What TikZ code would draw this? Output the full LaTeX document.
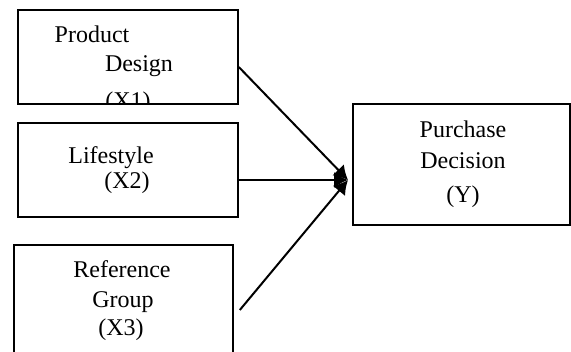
\documentclass[tikz,border=0pt]{standalone}
\usepackage{fontspec}
\setmainfont{Liberation Serif}
\usetikzlibrary{arrows.meta}

\begin{document}
\begin{tikzpicture}[x=0.5pt,y=-0.5pt,>={Latex[length=7pt,width=8pt]},
  box/.style={draw,line width=0.8pt,inner sep=0pt},
  lbl/.style={anchor=base,inner sep=0pt,font=\fontsize{12}{14}\selectfont}]
\useasboundingbox (0,0) rectangle (571,352);
\node[box,minimum width=110pt,minimum height=47pt] (pd) at (128,57) {};
\node[box,minimum width=110pt,minimum height=47pt] (ls) at (128,170) {};
\node[box,minimum width=109.5pt,minimum height=65pt] (rg) at (123.5,310) {};
\node[box,minimum width=108.5pt,minimum height=60.5pt] (pdy) at (461.5,164.5) {};
\begin{scope}
\clip (pd.south west) rectangle (pd.north east);
\node[lbl] at (92,43) {Product}; \node[lbl] at (139,72) {Design};
\node[lbl] at (128,109) {(X1)};
\end{scope}
\node[lbl] at (111,163) {Lifestyle}; \node[lbl] at (127,188) {(X2)};
\node[lbl] at (122,277) {Reference}; \node[lbl] at (123,307) {Group};
\node[lbl] at (121,335) {(X3)};
\node[lbl] at (463,138) {Purchase}; \node[lbl] at (463,169) {Decision};
\node[lbl] at (463,202) {(Y)};
\coordinate (tip) at (348,180);
\draw[->,line width=1pt] ([yshift=-5pt]pd.east) -- (tip);
\draw[->,line width=1pt] ([yshift=-5pt]ls.east) -- (tip);
\draw[->,line width=1pt] ([xshift=3pt]rg.east) -- (tip);
\end{tikzpicture}
\end{document}
